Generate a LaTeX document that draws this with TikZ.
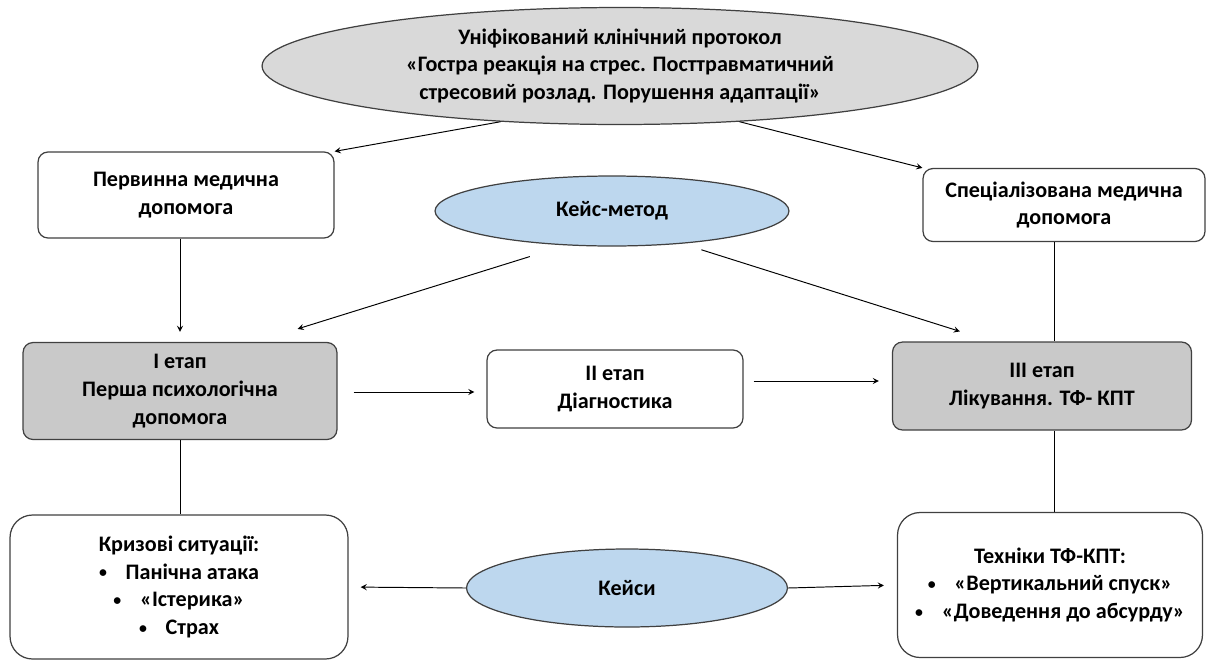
\documentclass[tikz,border=0pt]{standalone}
\usepackage{fontspec}
\setmainfont{Carlito}
\usepackage{tikz}
\usetikzlibrary{shapes}
\definecolor{stagegray}{HTML}{C9C9C9}
\definecolor{topgray}{HTML}{D9D9D9}
\definecolor{caseblue}{HTML}{BDD7EE}
\definecolor{edgegray}{HTML}{404040}
\newcommand{\bul}{\raisebox{0.12ex}{\fontsize{9}{9}\selectfont•}\hspace{0.85em}}
\tikzset{box/.style={rectangle,rounded corners=0.2cm,draw=edgegray,line width=0.7pt,fill=white,align=center,inner sep=0pt,font=\bfseries\fontsize{12.6}{15.8}\selectfont}}
\tikzset{stage/.style={box,fill=stagegray}}
\tikzset{bigbox/.style={box,rounded corners=0.45cm}}
\tikzset{oval/.style={ellipse,draw=edgegray,line width=0.7pt,align=center,inner sep=0pt,font=\bfseries\fontsize{12.6}{15.8}\selectfont}}

\begin{document}
\begin{tikzpicture}[>=stealth, x=0.02cm, y=-0.02cm, line width=0.55pt]
        \useasboundingbox (0,0) rectangle (1209,660);

        \node[oval, fill=topgray, minimum width=14.32cm, minimum height=2.34cm] (prot) at (620,66) {Уніфікований клінічний протокол\\«Гостра реакція на стрес. Посттравматичний\\стресовий розлад. Порушення адаптації»};
        \node[box, minimum width=5.92cm, minimum height=1.72cm] (prim) at (186,195) {Первинна медична\\допомога};
        \node[box, minimum width=5.64cm, minimum height=1.46cm] (spec) at (1064,205) {Спеціалізована медична\\допомога};
        \node[oval, fill=caseblue, minimum width=7.08cm, minimum height=1.4cm] (km) at (612,211) {Кейс-метод};

        \node[stage, minimum width=6.28cm, minimum height=1.94cm] (st1) at (180,391) {I етап\\Перша психологічна\\допомога};
        \node[box, minimum width=5.12cm, minimum height=1.56cm] (st2) at (615,389) {II етап\\Діагностика};
        \node[stage, minimum width=5.98cm, minimum height=1.76cm] (st3) at (1042,386) {III етап\\Лікування. ТФ- КПТ};

        \node[bigbox, minimum width=6.76cm, minimum height=2.88cm] (crisis) at (179,587) {Кризові ситуації:\\\bul Панічна атака\\\bul «Істерика»\\\bul Страх};
        \node[oval, fill=caseblue, minimum width=6.42cm, minimum height=1.56cm] (cases) at (627,588) {Кейси};
        \node[bigbox, minimum width=6.1cm, minimum height=2.9cm] (tech) at (1050,585) {Техніки ТФ-КПТ:\\\bul «Вертикальний спуск»\\\bul «Доведення до абсурду»};

        \draw [->] (prot.205) to [] (prim.north east);
        \draw [->] (prot.335) to [] (spec.north west);
        \draw [->, shorten >=0.2cm] (prim.south -| st1.north) to [] (st1.north);
        \draw [->] ([shift={(0,14)}]km.201) to [] ([shift={(-40,-13)}]st1.north east);
        \draw [->] ([shift={(0,8)}]km.341) to [] ([shift={(68,-10)}]st3.north west);
        \draw ([xshift=-0.2cm]spec.south) to [] ([xshift=-0.2cm]spec.south |- st3.north);
        \draw [->, shorten <=0.32cm, shorten >=0.24cm] (st1.east |- 0,392) to [] (st2.west |- 0,392);
        \draw [->, shorten <=0.2cm, shorten >=0.26cm] (st2.east |- 0,381) to [] (st3.west |- 0,381);
        \draw (st1.south) to [] (st1.south |- crisis.north);
        \draw ([xshift=0.24cm]st3.south) to [] ([xshift=0.24cm]st3.south |- tech.north);
        \draw [->, shorten >=0.24cm] (cases.west) to [] (crisis.east);
        \draw [->, shorten >=0.26cm] (cases.east) to [] (tech.west);
\end{tikzpicture}
\end{document}
